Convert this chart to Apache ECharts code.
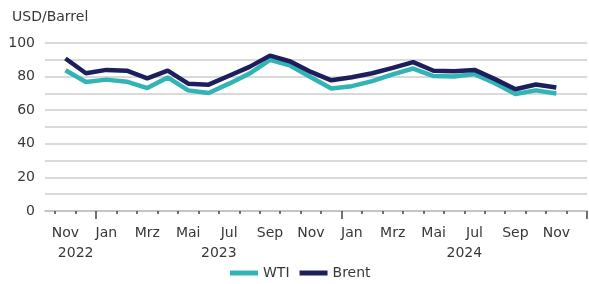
<!DOCTYPE html>
<html>
<head>
<meta charset="utf-8">
<script src="https://cdn.jsdelivr.net/npm/echarts@6/dist/echarts.min.js"></script>
<style>
    html, body { margin: 0; padding: 0; background: #fff; }
    #chart { width: 589px; height: 284px; }
</style>
</head>
<body>
<div id="chart"></div>
<script>
// Monate Nov 2022 - Dez 2024 (Dez 2024 ohne Wert)
var months = ['Nov', 'Dez', 'Jan', 'Feb', 'Mrz', 'Apr', 'Mai', 'Jun', 'Jul', 'Aug', 'Sep', 'Okt',
    'Nov', 'Dez', 'Jan', 'Feb', 'Mrz', 'Apr', 'Mai', 'Jun', 'Jul', 'Aug', 'Sep', 'Okt', 'Nov', 'Dez'];
var monthTicks = [0, 2, 4, 6, 8, 10, 12, 14, 16, 18, 20, 22, 24]; // jeder 2. Monat beschriftet
var years = ['2022', '2023', '2024'];
var yearPos = [0.5, 7.5, 19.5]; // Mitte des jeweiligen Jahres
var yearBreaks = [1.5, 13.5, 25.5]; // lange Striche bei Jan
var wti = [83.8, 76.8, 78.2, 77, 73.2, 79.5, 71.8, 70.2, 75.8, 81.8, 90, 86.5,
    79.6, 72.9, 74.3, 77.3, 81.3, 84.8, 80.3, 80, 81.5, 76, 69.6, 71.8, 70];
var brent = [90.8, 82, 84, 83.5, 79, 83.5, 75.8, 75.2, 80.5, 85.8, 92.5, 89,
    82.8, 77.8, 79.6, 82, 85.2, 88.6, 83.5, 83.2, 84, 78.5, 72.5, 75.3, 73.5];
var yTicks = [0, 20, 40, 60, 80, 100];

var font = 'DejaVu Sans';
var textColor = '#383838';

function toPairs(list) {
    var ret = [];
    for (var i = 0; i < list.length; i++) {
        ret.push([i, list[i]]);
    }
    return ret;
}

// kleine Striche an den Monatsgrenzen
var smallTicks = [];
for (var i = 0; i < months.length + 1; i++) {
    smallTicks.push(i - 0.5);
}

var chart = echarts.init(document.getElementById('chart'), null, { renderer: 'canvas' });

var option = {
    animation: false,
    title: {
        text: 'USD/Barrel',
        left: 12,
        top: 10,
        padding: 0,
        textStyle: { fontFamily: font, fontSize: 14, fontWeight: 'normal', color: textColor }
    },
    legend: {
        data: ['WTI', 'Brent'],
        left: 230,
        top: 266,
        padding: 0,
        icon: 'rect',
        itemWidth: 28,
        itemHeight: 5,
        itemGap: 10,
        textStyle: { fontFamily: font, fontSize: 14, color: textColor }
    },
    grid: { left: 45, right: 2, top: 43, bottom: 73 },
    xAxis: [{
        type: 'value',
        min: -1,
        max: 25.5,
        splitLine: { show: false },
        axisLine: { lineStyle: { color: '#bdbdbd', width: 1.5 } },
        axisTick: { show: true, customValues: smallTicks, length: 3, lineStyle: { color: '#444', width: 1.5 } },
        axisLabel: {
            customValues: monthTicks,
            margin: 15,
            fontFamily: font,
            fontSize: 14,
            color: textColor,
            formatter: function(value) {
                return months[Math.round(value)];
            }
        }
    }, {
        type: 'value',
        min: -1,
        max: 25.5,
        position: 'bottom',
        splitLine: { show: false },
        axisLine: { show: false },
        axisTick: { show: true, customValues: yearBreaks, length: 8, lineStyle: { color: '#444', width: 1.5 } },
        axisLabel: {
            customValues: yearPos,
            margin: 35,
            fontFamily: font,
            fontSize: 14,
            color: textColor,
            formatter: function(value) {
                var idx = yearPos.indexOf(value);
                return idx >= 0 ? years[idx] : '';
            }
        }
    }],
    yAxis: {
        type: 'value',
        min: 0,
        max: 100,
        interval: 10,
        axisLine: { show: false },
        axisTick: { show: false },
        splitLine: { lineStyle: { color: '#cdcdcd', width: 1.5 } },
        axisLabel: {
            margin: 10,
            fontFamily: font,
            fontSize: 14,
            color: textColor,
            formatter: function(value) {
                return yTicks.indexOf(value) >= 0 ? value : '';
            }
        }
    },
    series: [{
        name: 'WTI',
        type: 'line',
        data: toPairs(wti),
        color: '#32b4b4',
        showSymbol: false,
        symbol: 'none',
        lineStyle: { width: 4.5 }
    }, {
        name: 'Brent',
        type: 'line',
        data: toPairs(brent),
        color: '#1c1f5c',
        showSymbol: false,
        symbol: 'none',
        lineStyle: { width: 4.5 }
    }]
};
chart.setOption(option);
</script>
</body>
</html>
